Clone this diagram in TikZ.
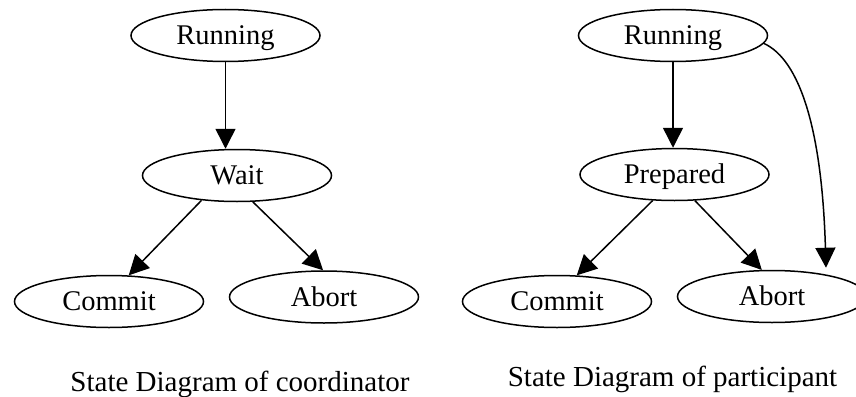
\documentclass[tikz,border=0pt]{standalone}
\usepackage{fontspec}
\setmainfont{Liberation Serif}
\usetikzlibrary{arrows.meta,shapes.geometric}

\tikzset{
  state/.style={ellipse, draw, line width=1.5pt, minimum width=189pt,
    minimum height=52pt, inner sep=0pt, text height=20pt, text depth=2pt,
    font=\fontsize{28.5pt}{34pt}\selectfont},
  caption/.style={anchor=base, inner sep=0pt,
    font=\fontsize{29pt}{34pt}\selectfont},
  edge/.style={line width=1.5pt, -{Triangle[length=20pt,width=20pt]}},
}

\begin{document}
\begin{tikzpicture}[x=1pt,y=-1pt]
  \clip (0,0) rectangle (856,396);
  \fill[white] (0,0) rectangle (856,396);

  % coordinator
  \node[state] (run1) at (225.5,35.5) {Running};
  \node[state] (wait) at (237,175.5) {Wait};
  \node[state] (com1) at (109,301.5) {Commit};
  \node[state] (abo1) at (324,297) {Abort};
  \node[caption] (cap1) at (240,391) {State Diagram of coordinator};

  \draw[edge] (run1.south) -- (run1.south |- wait.north);
  \draw[edge] (wait.215) -- (com1.53);
  \draw[edge] (wait.301) -- (abo1.92);

  % participant
  \node[state] (run2) at (673,35.5) {Running};
  \node[state] (prep) at (674.5,174.5) {Prepared};
  \node[state] (com2) at (557,301.5) {Commit};
  \node[state] (abo2) at (772,296.5) {Abort};
  \node[caption] (cap2) at (672.5,386) {State Diagram of participant};

  \draw[edge] (run2.south) -- (run2.south |- prep.north);
  \draw[edge] (prep.230) -- (com2.53);
  \draw[edge] (prep.308) -- (abo2.111);
  \draw[edge] (run2.355) .. controls (800,60) and (822,130) ..
    ([xshift=54pt,yshift=2pt]abo2.north);
\end{tikzpicture}
\end{document}
